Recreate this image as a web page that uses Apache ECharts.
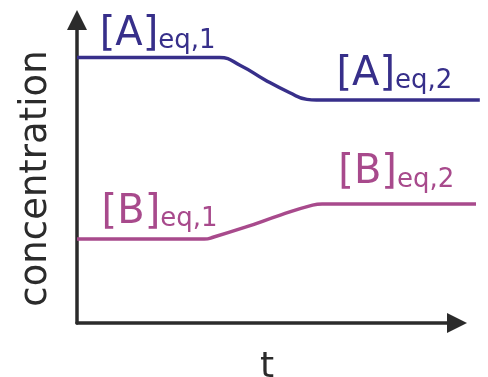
<!DOCTYPE html>
<html>
<head>
<meta charset="utf-8">
<script src="https://cdn.jsdelivr.net/npm/echarts@6/dist/echarts.min.js"></script>
<style>
  html, body { margin: 0; padding: 0; background: #fff; }
  #chart { width: 488px; height: 377px; }
</style>
</head>
<body>
<div id="chart"></div>
<script>
// time (arbitrary units) and concentrations
const timeA = [0, 3.75, 4.3, 4.95, 5.6, 6.05, 6.3, 10.6]
const concA = [8.76, 8.76, 8.5, 8.02, 7.6, 7.38, 7.36, 7.36]
const timeB = [0, 3.35, 3.6, 4.45, 5.35, 6.2, 6.45, 10.5]
const concB = [2.77, 2.77, 2.84, 3.17, 3.56, 3.89, 3.93, 3.93]

// label texts and where they sit (data units)
const labelsA = [
  { main: '[A]', sub: 'eq,1', at: [0.61, 8.84] },
  { main: '[A]', sub: 'eq,2', at: [6.84, 7.53] },
]
const labelsB = [
  { main: '[B]', sub: 'eq,1', at: [0.66, 2.97] },
  { main: '[B]', sub: 'eq,2', at: [6.89, 4.28] },
]

const COLOR_A = '#372f8a'
const COLOR_B = '#a84a8c'
const AXIS_COLOR = '#2b2b2b'
const FONT = 'DejaVu Sans'

// the lines run a bit past the arrow tip, so they get their own wider grid
const X_MAX = 10
const X_MAX_DATA = 10.6

const toPairs = (xs, ys) => xs.map((x, i) => [x, ys[i]])

// 标签用 markPoint 挂在数据坐标上
const markLabels = (list, color) => ({
  symbol: 'circle',
  symbolSize: 1,
  silent: true,
  itemStyle: { color: 'rgba(0,0,0,0)' },
  data: list.map((l) => ({ coord: l.at, name: l.main + '|' + l.sub })),
  label: {
    show: true,
    position: [0, 0],
    align: 'left',
    verticalAlign: 'bottom',
    formatter: ({ name }) => {
      const [m, s] = name.split('|')
      return `{m|${m}}{s|${s}}`
    },
    rich: {
      m: { fontFamily: FONT, fontSize: 40, lineHeight: 44, color, verticalAlign: 'bottom' },
      s: { fontFamily: FONT, fontSize: 26, lineHeight: 26, color, verticalAlign: 'bottom' },
    },
  },
})

const AXIS_LINE = {
  show: true,
  symbol: ['none', 'triangle'],
  symbolSize: [20, 20],
  lineStyle: { color: AXIS_COLOR, width: 3.5 },
}

const HIDDEN = {
  type: 'value',
  min: 0,
  max: 10,
  show: false,
  splitLine: { show: false },
}

const chart = echarts.init(document.getElementById('chart'), null, { renderer: 'canvas' })

const plotWidth = 488 - 77 - 31
const option = {
  animation: false,
  grid: [
    { left: 77, right: 31, top: 20, bottom: 54, outerBoundsMode: 'none', containLabel: false },
    {
      left: 77,
      right: 488 - 77 - plotWidth * (X_MAX_DATA / X_MAX),
      top: 20,
      bottom: 54,
      outerBoundsMode: 'none',
      containLabel: false,
    },
  ],
  xAxis: [
    {
      type: 'value',
      gridIndex: 0,
      min: 0,
      max: X_MAX,
      name: 't',
      nameLocation: 'middle',
      nameGap: 27,
      nameTextStyle: { fontFamily: FONT, fontSize: 36, color: AXIS_COLOR },
      axisLine: AXIS_LINE,
      axisTick: { show: false },
      axisLabel: { show: false },
      splitLine: { show: false },
    },
    { ...HIDDEN, gridIndex: 1, max: X_MAX_DATA },
  ],
  yAxis: [
    {
      type: 'value',
      gridIndex: 0,
      min: 0,
      max: 10,
      name: 'concentration',
      nameLocation: 'middle',
      nameRotate: 90,
      nameGap: 22,
      nameTextStyle: { fontFamily: FONT, fontSize: 37, color: AXIS_COLOR, padding: [0, 14, 0, 0] },
      axisLine: AXIS_LINE,
      axisTick: { show: false },
      axisLabel: { show: false },
      splitLine: { show: false },
    },
    { ...HIDDEN, gridIndex: 1 },
  ],
  series: [
    {
      type: 'line',
      xAxisIndex: 1,
      yAxisIndex: 1,
      data: toPairs(timeA, concA),
      smooth: 0.5,
      showSymbol: false,
      clip: false,
      lineStyle: { color: COLOR_A, width: 3.5 },
      markPoint: markLabels(labelsA, COLOR_A),
    },
    {
      type: 'line',
      xAxisIndex: 1,
      yAxisIndex: 1,
      data: toPairs(timeB, concB),
      smooth: 0.5,
      showSymbol: false,
      clip: false,
      lineStyle: { color: COLOR_B, width: 3.5 },
      markPoint: markLabels(labelsB, COLOR_B),
    },
  ],
}

chart.setOption(option)
</script>
</body>
</html>
